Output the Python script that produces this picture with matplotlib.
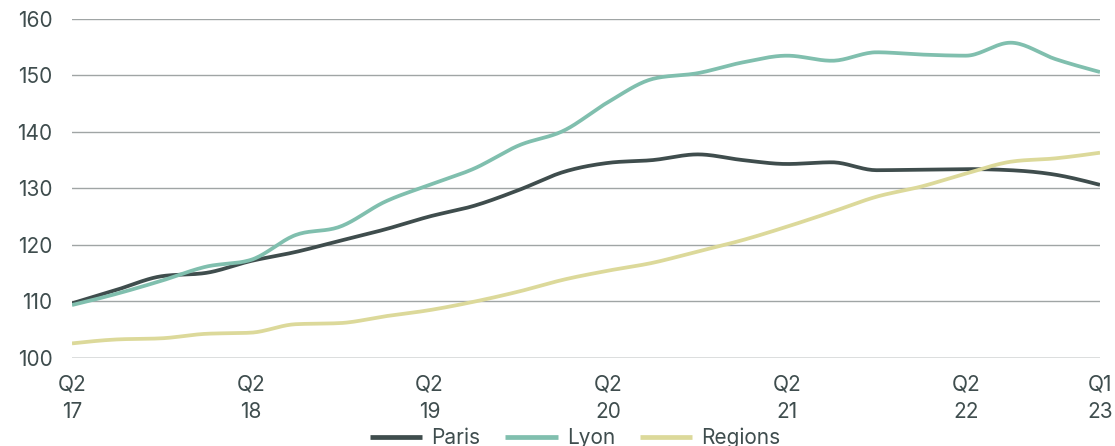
import numpy as np
import matplotlib
matplotlib.use("Agg")
import matplotlib.pyplot as plt

quarters = ["Q2 17", "Q3 17", "Q4 17", "Q1 18", "Q2 18", "Q3 18", "Q4 18", "Q1 19",
            "Q2 19", "Q3 19", "Q4 19", "Q1 20", "Q2 20", "Q3 20", "Q4 20", "Q1 21",
            "Q2 21", "Q3 21", "Q4 21", "Q1 22", "Q2 22", "Q3 22", "Q4 22", "Q1 23"]
paris = [109.6, 112.0, 114.4, 115.0, 117.1, 118.7, 120.7, 122.7, 125.0, 126.9, 129.7, 132.9,
         134.5, 135.0, 136.0, 135.0, 134.3, 134.6, 133.2, 133.3, 133.4, 133.2, 132.4, 130.6]
lyon = [109.3, 111.3, 113.6, 116.1, 117.3, 121.7, 123.2, 127.6, 130.6, 133.5, 137.6, 140.2,
        145.3, 149.4, 150.4, 152.3, 153.5, 152.6, 154.1, 153.7, 153.5, 155.8, 152.9, 150.6]
regions = [102.5, 103.2, 103.4, 104.2, 104.4, 105.9, 106.1, 107.3, 108.4, 109.9, 111.7, 113.8,
           115.4, 116.8, 118.8, 120.8, 123.2, 125.8, 128.5, 130.3, 132.6, 134.7, 135.3, 136.3]
series_names = ["Paris", "Lyon", "Regions"]
tick_idx = [0, 4, 8, 12, 16, 20, 23]
tick_labels = ["Q2\n17", "Q2\n18", "Q2\n19", "Q2\n20", "Q2\n21", "Q2\n22", "Q1\n23"]
y_ticks = [100, 110, 120, 130, 140, 150, 160]

colors = ["#3f4d4d", "#80bfae", "#dcd99a"]
text_color = "#3f4d4e"


def monotone_curve(x, y, n=20):
    """Monotone cubic Hermite (like d3.curveMonotoneX) for drawing."""
    x = np.asarray(x, float)
    y = np.asarray(y, float)
    h = np.diff(x)
    d = np.diff(y) / h
    m = np.zeros_like(y)
    for i in range(1, len(y) - 1):
        if d[i - 1] * d[i] <= 0:
            m[i] = 0
        else:
            p = (d[i - 1] * h[i] + d[i] * h[i - 1]) / (h[i - 1] + h[i])
            m[i] = (np.sign(d[i - 1]) + np.sign(d[i])) * min(abs(d[i - 1]), abs(d[i]), 0.5 * abs(p))
    m[0] = (3 * d[0] - m[1]) / 2 if len(y) > 2 else d[0]
    m[-1] = (3 * d[-1] - m[-2]) / 2 if len(y) > 2 else d[-1]
    xs, ys = [], []
    for i in range(len(x) - 1):
        t = np.linspace(0, 1, n, endpoint=(i == len(x) - 2))
        h00 = 2 * t**3 - 3 * t**2 + 1
        h10 = t**3 - 2 * t**2 + t
        h01 = -2 * t**3 + 3 * t**2
        h11 = t**3 - t**2
        xs.append(x[i] + t * h[i])
        ys.append(h00 * y[i] + h10 * h[i] * m[i] + h01 * y[i + 1] + h11 * h[i] * m[i + 1])
    return np.concatenate(xs), np.concatenate(ys)


plt.rcParams["font.family"] = ["Inter", "DejaVu Sans"]
fig = plt.figure(figsize=(11.15, 4.46), dpi=100)
ax = fig.add_axes([72 / 1115, 1 - 357.5 / 446, (1100 - 72) / 1115, (357.5 - 19) / 446])

x = np.arange(len(quarters))
for vals, name, c in zip([paris, lyon, regions], series_names, colors):
    sx, sy = monotone_curve(x, vals)
    ax.plot(sx, sy, color=c, lw=2.7, label=name, solid_capstyle="butt", zorder=3)

ax.set_xlim(0, len(quarters) - 1)
ax.set_ylim(100, 160)
ax.set_yticks(y_ticks)
ax.set_xticks(tick_idx)
ax.set_xticklabels(tick_labels, linespacing=1.5)
for yv in y_ticks:
    ax.axhline(yv, color="#4d5a5a" if yv == 100 else "#a0a5a5", lw=1.0, zorder=1)
for s in ax.spines.values():
    s.set_visible(False)
ax.tick_params(axis="both", length=0, labelsize=15, colors=text_color)
ax.tick_params(axis="y", pad=14)
ax.tick_params(axis="x", pad=12)
ax.set_facecolor("white")

leg = fig.legend(loc="center", bbox_to_anchor=(0.516, 0.018), ncol=3, frameon=False,
                 fontsize=15, handlelength=2.5, handletextpad=0.45, columnspacing=1.2,
                 borderaxespad=0, borderpad=0)
for t in leg.get_texts():
    t.set_color(text_color)
for l in leg.get_lines():
    l.set_linewidth(3.4)

fig.savefig("out.png", dpi=100)
